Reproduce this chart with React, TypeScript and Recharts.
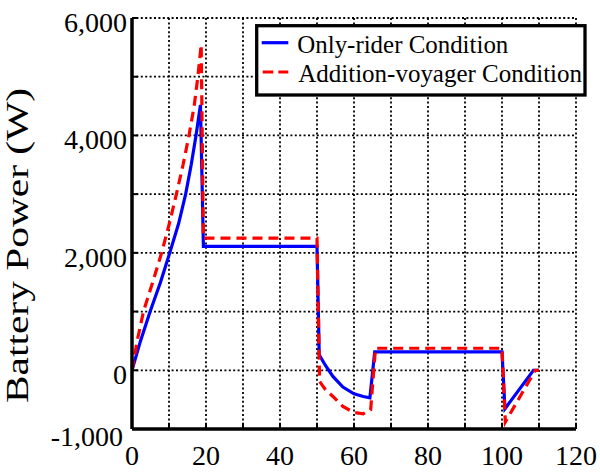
import React from "react";
import { LineChart, Line, XAxis, YAxis, CartesianGrid, Label } from "recharts";

// ---- data ----
const blueX = [0, 2.3, 4.9, 7.7, 10.2, 12.6, 14.5, 16.0, 17.3, 18.5, 19.3, 50, 50.6, 52.2, 54.3, 57, 60, 62.5, 64.3, 65.6, 100, 100.8, 108.5, 110];
const blueY = [0, 500, 1000, 1500, 2000, 2500, 3000, 3500, 4000, 4520, 2110, 2110, 264, 90, -105, -286, -400, -446, -468, 315, 315, -655, 0, 0];

const redX = [0, 1.4, 3.1, 5.6, 8.0, 10.1, 12.0, 13.8, 15.4, 16.8, 17.8, 18.7, 19.3, 50, 50.7, 52.3, 54.3, 57, 60, 62.5, 64.5, 65.8, 100, 100.9, 109, 110];
const redY = [0, 500, 1000, 1500, 2000, 2500, 3000, 3500, 4000, 4500, 5000, 5545, 2250, 2250, -190, -330, -446, -617, -719, -741, -673, 375, 375, -880, 0, 0];

const xGridTicks = [0, 10, 20, 30, 40, 50, 60, 70, 80, 90, 100, 110, 120];
const xLabelTicks = [0, 20, 40, 60, 80, 100, 120];
const yGridTicks = [-1000, 0, 1000, 2000, 3000, 4000, 5000, 6000];
const yLabelTicks = [-1000, 0, 2000, 4000, 6000];

const seriesNames = ["Only-rider Condition", "Addition-voyager Condition"];
const yAxisTitle = "Battery Power (W)";

const blueData = blueX.map((x, i) => ({ x, y: blueY[i] }));
const redData = redX.map((x, i) => ({ x, y: redY[i] }));

const FONT = '"Liberation Serif", "Times New Roman", serif';

const fmt = (v: number) => (v < 0 ? "-" : "") + Math.abs(v).toLocaleString("en-US");

const XTick = (props: any) => {
  const { x, y, payload } = props;
  const v = payload.value;
  return (
    <g>
      <line x1={x} y1={y} x2={x} y2={y - 6} stroke="#000" strokeWidth={2} />
      {xLabelTicks.includes(v) && (
        <text x={x} y={y + 36} textAnchor="middle" fontFamily={FONT} fontSize={28} fill="#000">
          {String(v)}
        </text>
      )}
    </g>
  );
};

const YTick = (props: any) => {
  const { x, y, payload } = props;
  const v = payload.value;
  const isMin = v === yGridTicks[0];
  return (
    <g>
      <line x1={x + 5} y1={y} x2={x + 11} y2={y} stroke="#000" strokeWidth={2} />
      {yLabelTicks.includes(v) && (
        <text
          x={isMin ? x - 4 : x}
          y={y + (isMin ? 17 : 14)}
          textAnchor="end"
          fontFamily={FONT}
          fontSize={28}
          fill="#000"
        >
          {fmt(v)}
        </text>
      )}
    </g>
  );
};

const YTitle = () => (
  <text
    x={28}
    y={245.5}
    transform="rotate(-90 28 245.5)"
    textAnchor="middle"
    fontFamily={FONT}
    fontSize={32}
    fill="#000"
    textLength={315}
    lengthAdjust="spacingAndGlyphs"
  >
    {yAxisTitle}
  </text>
);

export default function App() {
  return (
    <div style={{ position: "absolute", left: 0, top: 0, width: 600, height: 472, background: "#fff" }}>
      <LineChart width={600} height={472} margin={{ top: 18, right: 24, bottom: 0, left: 0 }}>
        <CartesianGrid stroke="#000" strokeDasharray="2 2.4" strokeWidth={1.8} />
        <XAxis
          dataKey="x"
          type="number"
          domain={[0, 120]}
          ticks={xGridTicks}
          interval={0}
          height={43}
          tickSize={0}
          tickMargin={0}
          tick={<XTick />}
          axisLine={{ stroke: "#000", strokeWidth: 3.5 }}
          allowDataOverflow
        />
        <YAxis
          type="number"
          domain={[-1000, 6000]}
          ticks={yGridTicks}
          interval={0}
          width={132}
          tickSize={0}
          tickMargin={5}
          tick={<YTick />}
          axisLine={{ stroke: "#000", strokeWidth: 3.5 }}
          allowDataOverflow
        >
          <Label content={<YTitle />} />
        </YAxis>
        <Line
          data={blueData}
          dataKey="y"
          type="linear"
          stroke="#0000ff"
          strokeWidth={3.2}
          dot={false}
          isAnimationActive={false}
          name={seriesNames[0]}
        />
        <Line
          data={redData}
          dataKey="y"
          type="linear"
          stroke="#ff0000"
          strokeWidth={3.2}
          strokeDasharray="10 6"
          dot={false}
          isAnimationActive={false}
          name={seriesNames[1]}
        />
      </LineChart>
      <svg
        width={600}
        height={472}
        style={{ position: "absolute", left: 0, top: 0, pointerEvents: "none" }}
      >
        <rect x={256.7} y={25.7} width={328.3} height={69.3} fill="#fff" stroke="#000" strokeWidth={3.3} />
        <line x1={261.7} y1={42.7} x2={288.3} y2={42.7} stroke="#0000ff" strokeWidth={3.2} />
        <line x1={262.7} y1={72} x2={288.3} y2={72} stroke="#ff0000" strokeWidth={3.2} strokeDasharray="10.6 5" />
        <text x={297.3} y={53.3} fontFamily={FONT} fontSize={26} fill="#000" textLength={211} lengthAdjust="spacingAndGlyphs">
          {seriesNames[0]}
        </text>
        <text x={298.3} y={82.3} fontFamily={FONT} fontSize={26} fill="#000" textLength={283.7} lengthAdjust="spacingAndGlyphs">
          {seriesNames[1]}
        </text>
      </svg>
    </div>
  );
}
